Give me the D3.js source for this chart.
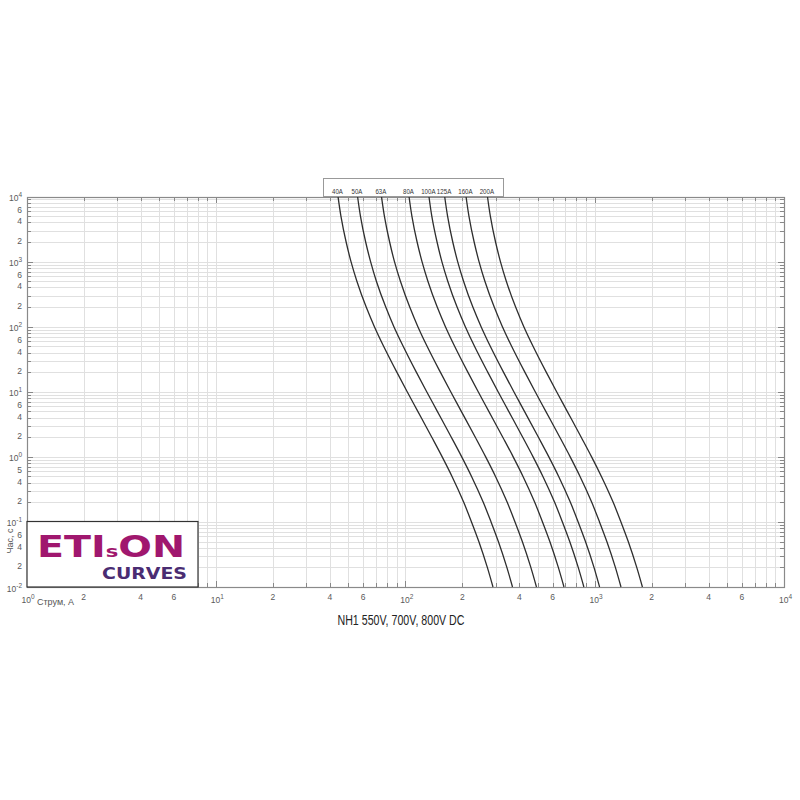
<!DOCTYPE html>
<html><head><meta charset="utf-8">
<script src="https://cdn.jsdelivr.net/npm/d3@7/dist/d3.min.js"></script>
<style>body{margin:0;background:#fff}</style>
</head><body>
<svg id="c" width="800" height="800"></svg>
<script>
// ---- data ----
const ratings = ["40A","50A","63A","80A","100A","125A","160A","200A"];
const times = [10000,5000,2000,1000,500,200,100,50,20,10,5,2,1,0.5,0.2,0.1,0.05,0.02,0.01];
const i40A  = [44.16,45.74,48.73,51.70,55.54,62.20,68.73,76.87,90.25,102.4,116.5,138.1,156.7,176.6,203.6,223.8,244.6,271.3,290.6];
const i50A  = [56.0,58.0,61.8,65.6,70.4,78.9,87.1,97.5,114.4,129.8,147.7,175.1,198.7,223.9,258.2,283.8,310.2,344.0,368.5];
const i63A  = [74.9,77.6,82.7,87.7,94.3,105.6,116.6,130.4,153.2,173.8,197.7,234.4,265.9,299.7,345.5,379.8,415.1,460.4,493.1];
const i80A  = [104.7,108.4,115.5,122.6,131.7,147.5,163.0,182.3,214.0,242.8,276.2,327.4,371.5,418.7,482.7,530.6,580.0,643.2,689.0];
const i100A = [133.4,138.1,147.2,156.1,167.7,187.8,207.6,232.1,272.6,309.2,351.8,417.1,473.2,533.3,614.9,675.9,738.7,819.3,877.6];
const i125A = [161.5,167.3,178.2,189.1,203.2,227.5,251.5,281.2,330.1,374.5,426.1,505.0,573.1,645.9,744.7,818.5,894.6,992.3,1062];
const i160A = [209.4,216.9,231.1,245.2,263.4,295.0,325.9,364.5,428.0,485.6,552.4,654.9,743.1,837.4,965.5,1061,1160,1287,1378];
const i200A = [271.7,281.4,299.8,318.1,341.7,382.7,422.8,472.9,555.2,630.0,716.7,849.6,964.0,1086,1253,1377,1505,1669,1788];
const xTickValues = [1,2,4,6,10,20,40,60,100,200,400,600,1000,2000,4000,6000,10000];
const yTickValues = [0.01,0.02,0.04,0.06,0.1,0.2,0.4,0.6,1,2,4,6,10,20,40,60,100,200,400,600,1000,2000,4000,6000,10000];
const xAxisTitle = "Струм, А";
const yAxisTitle = "Час, с";
const chartTitle = "NH1 550V, 700V, 800V DC";

// ---- layout ----
const L = 26.5, R = 784, T = 196.5, B = 587;
const svg = d3.select("#c");
const x = d3.scaleLog().domain([1, 1e4]).range([L, R]);
const y = d3.scaleLog().domain([1e-2, 1e4]).range([B, T]);
const px = v => Math.round(v) + 0.5;

const xMinor = [], yMinor = [];
for (let e = 0; e < 4; e++) for (let m = 1; m < 10; m++) xMinor.push(+(m * Math.pow(10, e)).toPrecision(3));
xMinor.push(1e4);
for (let e = -2; e < 4; e++) for (let m = 1; m < 10; m++) yMinor.push(+(m * Math.pow(10, e)).toPrecision(3));
yMinor.push(1e4);
const isPow = v => Math.abs(Math.log10(v) - Math.round(Math.log10(v))) < 1e-9;

// grid
const grid = svg.append("g").attr("stroke", "#e0e0e0").attr("stroke-width", 1).attr("shape-rendering", "crispEdges");
grid.selectAll(".gv").data(xMinor).join("line")
  .attr("x1", d => px(x(d))).attr("x2", d => px(x(d))).attr("y1", T).attr("y2", B);
grid.selectAll(".gh").data(yMinor).join("line")
  .attr("y1", d => px(y(d))).attr("y2", d => px(y(d))).attr("x1", L).attr("x2", R);

// ticks (inward, all four sides)
const tk = svg.append("g").attr("stroke", "#888").attr("stroke-width", 1).attr("shape-rendering", "crispEdges");
xMinor.forEach(d => {
  const len = isPow(d) ? 6 : 4;
  tk.append("line").attr("x1", px(x(d))).attr("x2", px(x(d))).attr("y1", B).attr("y2", B - len);
  tk.append("line").attr("x1", px(x(d))).attr("x2", px(x(d))).attr("y1", T).attr("y2", T + len);
});
yMinor.forEach(d => {
  const len = isPow(d) ? 6 : 4;
  tk.append("line").attr("y1", px(y(d))).attr("y2", px(y(d))).attr("x1", L).attr("x2", L + len);
  tk.append("line").attr("y1", px(y(d))).attr("y2", px(y(d))).attr("x1", R).attr("x2", R - len);
});

// frame
svg.append("rect").attr("x", px(L)).attr("y", px(T)).attr("width", Math.round(R) - Math.round(L)).attr("height", Math.round(B) - Math.round(T))
  .attr("fill", "none").attr("stroke", "#8a8a8a").attr("stroke-width", 1.2);

// tick labels
const lblFont = "'Liberation Sans', Arial, sans-serif";
function powLabel(sel, v) {
  if (isPow(v)) {
    const e = Math.round(Math.log10(v));
    sel.append("tspan").text("10");
    sel.append("tspan").attr("font-size", 6.5).attr("dy", -4).text(e);
  } else {
    sel.text(String(v / Math.pow(10, Math.floor(Math.log10(v) + 1e-9))).charAt(0));
  }
}
xTickValues.forEach(v => {
  const t = svg.append("text").attr("x", x(v) + (isPow(v) ? 1.5 : 0)).attr("y", isPow(v) ? 603 : 599.5)
    .attr("text-anchor", "middle").attr("font-family", lblFont).attr("font-size", 8.5).attr("fill", "#5a5a5a");
  powLabel(t, v);
});
yTickValues.forEach(v => {
  const t = svg.append("text").attr("x", 22).attr("y", y(v) + (isPow(v) ? 4.5 : 2))
    .attr("text-anchor", "end").attr("font-family", lblFont).attr("font-size", 8.5).attr("fill", "#5a5a5a");
  powLabel(t, v);
});

// curves
const series = [i40A, i50A, i63A, i80A, i100A, i125A, i160A, i200A].map((vals, k) => ({
  name: ratings[k], pts: vals.map((c, j) => ({ i: c, t: times[j] }))
}));
const line = d3.line().x(d => x(d.i)).y(d => y(d.t)).curve(d3.curveMonotoneY);
svg.append("g").selectAll("path").data(series).join("path")
  .attr("d", d => line(d.pts)).attr("fill", "none").attr("stroke", "#2e2e2e").attr("stroke-width", 1.3);

// legend box on top
svg.append("rect").attr("x", 323.5).attr("y", 178.5).attr("width", 180).attr("height", 18)
  .attr("fill", "#fff").attr("stroke", "#999").attr("stroke-width", 1);
svg.append("g").selectAll("text").data(series).join("text")
  .attr("x", d => x(d.pts[0].i) - 0.6).attr("y", 193.5).attr("text-anchor", "middle")
  .attr("font-family", "'Liberation Sans', sans-serif").attr("font-size", 7.2).attr("fill", "#333")
  .attr("textLength", d => d.name.length * 3.6).attr("lengthAdjust", "spacingAndGlyphs")
  .text(d => d.name);

// axis titles
svg.append("text").attr("x", 37).attr("y", 605).attr("font-family", lblFont).attr("font-size", 9).attr("fill", "#555").text(xAxisTitle);
svg.append("text").attr("transform", "translate(13,541) rotate(-90)").attr("text-anchor", "middle")
  .attr("font-family", lblFont).attr("font-size", 9).attr("fill", "#555").text(yAxisTitle);

// title
svg.append("text").attr("x", 337.5).attr("y", 625).attr("font-family", "'Liberation Sans', sans-serif")
  .attr("font-size", 14).attr("fill", "#222").attr("textLength", 127).attr("lengthAdjust", "spacingAndGlyphs")
  .text(chartTitle);

// logo
svg.append("rect").attr("x", 27).attr("y", 521.5).attr("width", 171).attr("height", 65.5)
  .attr("fill", "#fff").attr("stroke", "#333").attr("stroke-width", 1.2);
const logo = svg.append("text").attr("x", 37).attr("y", 557).attr("font-family", "'DejaVu Sans', sans-serif")
  .attr("font-weight", "bold").attr("fill", "#a0176e").attr("textLength", 148).attr("lengthAdjust", "spacingAndGlyphs");
logo.append("tspan").attr("font-size", 30).text("ETI");
logo.append("tspan").attr("font-size", 16).text("s");
logo.append("tspan").attr("font-size", 30).text("ON");
svg.append("text").attr("x", 102).attr("y", 578.5).attr("font-family", "'DejaVu Sans', sans-serif")
  .attr("font-weight", "bold").attr("font-size", 15.5).attr("fill", "#4a2c72")
  .attr("textLength", 85).attr("lengthAdjust", "spacingAndGlyphs").text("CURVES");
</script>
</body></html>
